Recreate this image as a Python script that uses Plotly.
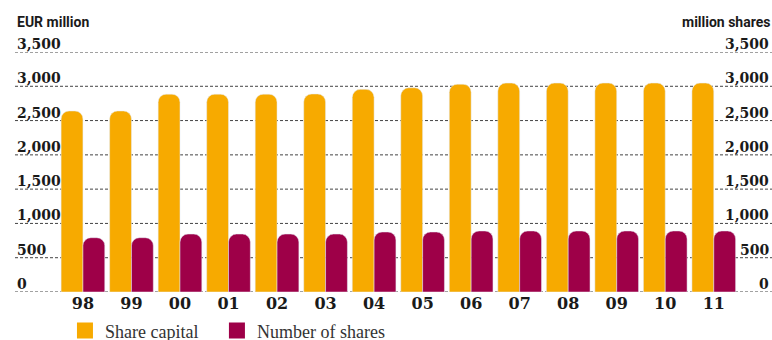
import plotly.graph_objects as go

years = ["98", "99", "00", "01", "02", "03", "04", "05", "06", "07", "08", "09", "10", "11"]
share_capital = [2640, 2640, 2885, 2885, 2885, 2888, 2955, 2978, 3030, 3047, 3047, 3047, 3047, 3047]
num_shares = [792, 792, 845, 845, 845, 845, 875, 875, 890, 890, 890, 890, 890, 890]
ytick_vals = [0, 500, 1000, 1500, 2000, 2500, 3000, 3500]
ytick_text = ["0", "500", "1,000", "1,500", "2,000", "2,500", "3,000", "3,500"]
series_names = ["Share capital", "Number of shares"]

ORANGE = "#F7AA00"
PURPLE = "#9E0048"
xs = list(range(len(years)))

fig = go.Figure()
fig.add_trace(go.Bar(x=xs, y=share_capital, name=series_names[0], marker_color=ORANGE,
                     showlegend=False))
fig.add_trace(go.Bar(x=xs, y=num_shares, name=series_names[1], marker_color=PURPLE,
                     showlegend=False))
# legend entries (larger squares than the default bar legend symbol)
fig.add_trace(go.Scatter(x=[None], y=[None], mode="markers",
                         name=series_names[0] + "\u00a0\u00a0\u00a0",
                         marker=dict(symbol="square", size=16, color=ORANGE)))
fig.add_trace(go.Scatter(x=[None], y=[None], mode="markers", name=series_names[1],
                         marker=dict(symbol="square", size=16, color=PURPLE)))

labfont = dict(family="DejaVu Serif", size=14, color="#1a1a1a", weight="bold")
annotations = []
shapes = []
for v, t in zip(ytick_vals, ytick_text):
    shapes.append(dict(type="line", xref="paper", yref="y", x0=0, x1=1, y0=v, y1=v,
                       layer="below", line=dict(color="#444444", width=1, dash="3px,2px")))
    annotations.append(dict(text=t, xref="paper", yref="y", x=0, y=v, xanchor="left",
                            yanchor="bottom", yshift=-2, showarrow=False, font=labfont))
    annotations.append(dict(text=t, xref="paper", yref="y", x=1, y=v, xanchor="right",
                            yanchor="bottom", xshift=-1, yshift=-2, showarrow=False, font=labfont))

annotations += [
    dict(text="<b>EUR million</b>", xref="paper", yref="paper", x=0, y=1,
         yshift=20, xanchor="left", yanchor="bottom", showarrow=False,
         font=dict(family="Roboto", size=14, color="#1a1a1a")),
    dict(text="<b>million shares</b>", xref="paper", yref="paper", x=1, y=1,
         yshift=20, xanchor="right", yanchor="bottom", showarrow=False,
         font=dict(family="Roboto", size=14, color="#1a1a1a")),
]

fig.update_layout(
    width=772, height=340,
    margin=dict(l=15, r=0, t=51.7, b=48, autoexpand=False),
    paper_bgcolor="white", plot_bgcolor="white",
    barmode="group", bargap=0.1, bargroupgap=0, barcornerradius=8,
    xaxis=dict(range=[-1.4, 14.2], tickvals=xs, ticktext=years, showgrid=False,
               zeroline=False, showline=False, ticks="",
               tickfont=dict(family="DejaVu Serif", size=16, color="#1a1a1a", weight="bold")),
    yaxis=dict(range=[0, 3500], showgrid=False, zeroline=False, showline=False,
               showticklabels=False, ticks=""),
    legend=dict(orientation="h", x=0.066, y=-0.085, xanchor="left", yanchor="top",
                font=dict(family="Liberation Serif", size=18, color="#333333"),
                itemsizing="trace", tracegroupgap=0),
    annotations=annotations,
    shapes=shapes,
)

fig.write_html("out.html")
